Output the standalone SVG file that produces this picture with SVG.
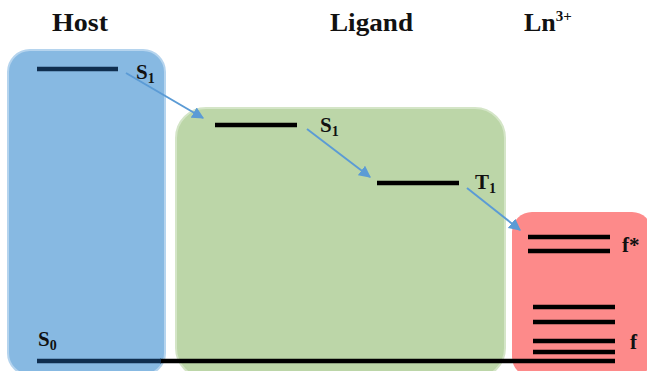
<svg xmlns="http://www.w3.org/2000/svg" width="647" height="371" viewBox="0 0 647 371">
<style>
.t{font-family:"Liberation Serif","Times New Roman",serif;font-weight:bold;fill:#111}
.h{font-size:26px}
.l{font-size:21px}
.s{font-size:14px}
.lv{stroke:#000;stroke-width:4.5}
.arr{stroke:#5b9bd5;stroke-width:2;fill:none;marker-end:url(#ah)}
</style>
<defs>
<marker id="ah" viewBox="0 0 10 10" refX="9" refY="5" markerWidth="6" markerHeight="6" orient="auto" markerUnits="strokeWidth">
<path d="M0,0 L10,5 L0,10 z" fill="#5b9bd5"/>
</marker>
</defs>
<rect width="647" height="371" fill="#fff"/>
<text class="t h" x="52" y="31" textLength="56" lengthAdjust="spacingAndGlyphs">Host</text>
<text class="t h" x="330" y="31" textLength="83" lengthAdjust="spacingAndGlyphs">Ligand</text>
<text class="t h" x="524" y="31">Ln<tspan font-size="15" dy="-10">3+</tspan></text>
<g id="host">
<rect x="8" y="50" width="157" height="325" rx="22" fill="#87b9e2" stroke="#b5d4ee" stroke-width="2"/>
<line x1="37" y1="69" x2="118" y2="69" stroke="#0f2e4f" stroke-width="4.5"/>
<text class="t l" x="136" y="79">S<tspan class="s" dy="4">1</tspan></text>
<text class="t l" x="38" y="346">S<tspan class="s" dy="4">0</tspan></text>
</g>
<g id="ligand">
<rect x="176" y="108" width="329" height="270" rx="30" fill="#bcd6a8" stroke="#d4e5c7" stroke-width="2"/>
<line class="lv" x1="215" y1="125" x2="297" y2="125"/>
<text class="t l" x="320" y="132">S<tspan class="s" dy="4">1</tspan></text>
<line class="lv" x1="377" y1="183" x2="459" y2="183"/>
<text class="t l" x="475" y="189">T<tspan class="s" dy="4">1</tspan></text>
</g>
<g id="ln">
<rect x="512" y="212" width="140" height="165" rx="20" fill="#fd8a8a"/>
<line class="lv" x1="528" y1="237" x2="610" y2="237"/>
<line class="lv" x1="528" y1="251" x2="610" y2="251"/>
<text class="t l" x="622" y="252">f*</text>
<line class="lv" x1="533" y1="307" x2="615" y2="307"/>
<line class="lv" x1="533" y1="322" x2="615" y2="322"/>
<line class="lv" x1="533" y1="341" x2="615" y2="341"/>
<line class="lv" x1="533" y1="352" x2="615" y2="352"/>
<text class="t l" x="630" y="349">f</text>
</g>
<g id="ground">
<line x1="160" y1="361" x2="615" y2="361" stroke="#000" stroke-width="4.5"/>
<line x1="37" y1="361" x2="161" y2="361" stroke="#0f2e4f" stroke-width="4.5"/>
</g>
<g id="connectors">
<line class="arr" x1="126" y1="73" x2="203" y2="118"/>
<line class="arr" x1="307" y1="129" x2="370" y2="177"/>
<line class="arr" x1="467" y1="188" x2="520" y2="230"/>
</g>
</svg>
